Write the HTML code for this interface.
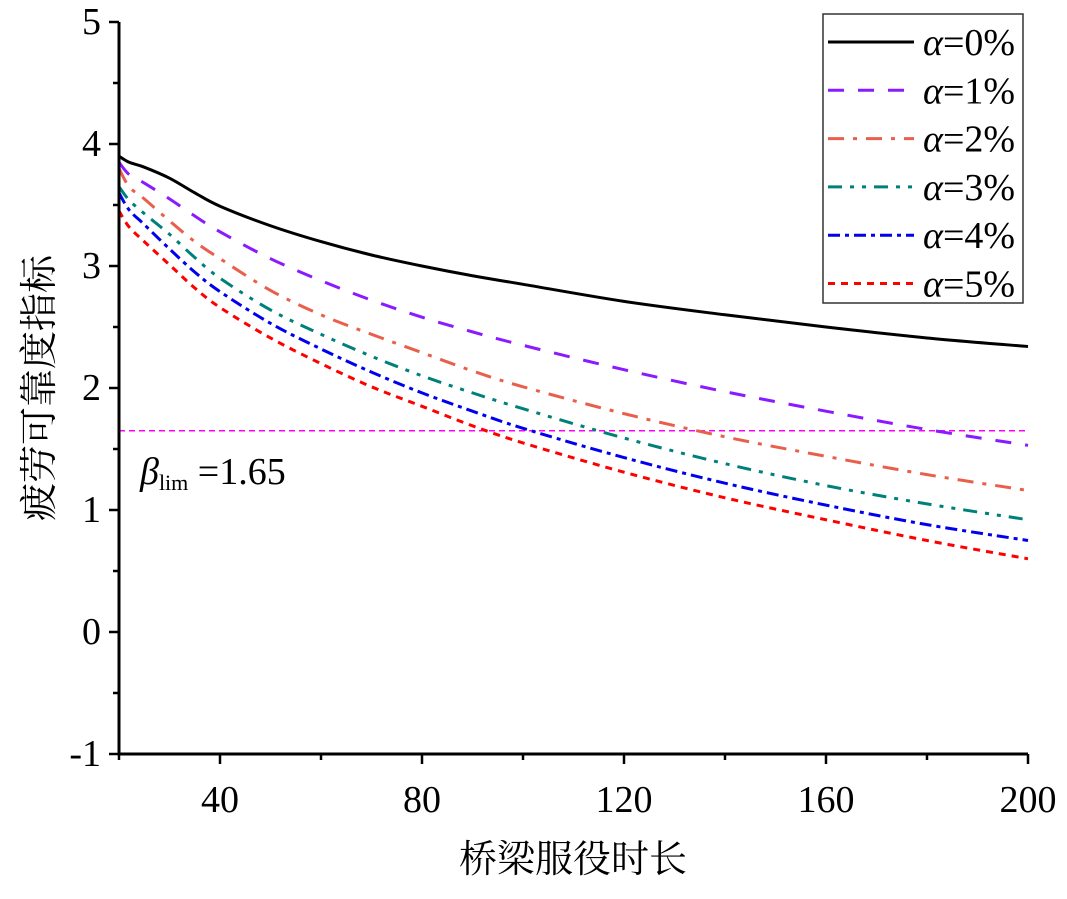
<!DOCTYPE html>
<html><head><meta charset="utf-8">
<style>
body{margin:0;background:#fff;}
svg, svg text{font-family:"Liberation Serif","Noto Serif CJK SC","Times New Roman",serif;fill:#000;}
</style></head>
<body>
<svg id="chart" width="1067" height="894" xmlns="http://www.w3.org/2000/svg" font-family="Liberation Serif, Noto Serif CJK SC, serif"></svg>
<script>
const xs = [20, 22, 25, 30, 35, 40, 50, 60, 70, 80, 90, 100, 120, 140, 160, 180, 200];
const s0 = [3.9, 3.85, 3.81, 3.72, 3.6, 3.49, 3.33, 3.2, 3.09, 3.0, 2.92, 2.85, 2.71, 2.6, 2.5, 2.41, 2.34];
const s1 = [3.85, 3.75, 3.68, 3.55, 3.41, 3.28, 3.06, 2.88, 2.72, 2.58, 2.46, 2.35, 2.15, 1.97, 1.81, 1.66, 1.53];
const s2 = [3.8, 3.65, 3.55, 3.37, 3.2, 3.06, 2.8, 2.6, 2.44, 2.29, 2.14, 2.01, 1.79, 1.6, 1.44, 1.29, 1.16];
const s3 = [3.65, 3.54, 3.43, 3.26, 3.07, 2.9, 2.64, 2.44, 2.26, 2.1, 1.96, 1.83, 1.59, 1.38, 1.2, 1.05, 0.92];
const s4 = [3.6, 3.46, 3.34, 3.14, 2.95, 2.79, 2.53, 2.32, 2.13, 1.96, 1.81, 1.67, 1.43, 1.22, 1.04, 0.88, 0.75];
const s5 = [3.45, 3.32, 3.2, 3.01, 2.82, 2.66, 2.41, 2.2, 2.01, 1.85, 1.69, 1.55, 1.31, 1.1, 0.92, 0.75, 0.6];
const seriesLabels = ["α=0%", "α=1%", "α=2%", "α=3%", "α=4%", "α=5%"];
const xTicks = [40, 80, 120, 160, 200];
const yTicks = [-1, 0, 1, 2, 3, 4, 5];
const betaLim = [1.65];

const NS = "http://www.w3.org/2000/svg";
const svg = document.getElementById("chart");
const X0 = 119, X1 = 1028, Y0 = 754, Y1 = 22;
const xMin = 20, xMax = 200, yMin = -1, yMax = 5;
const sx = v => X0 + (v - xMin) / (xMax - xMin) * (X1 - X0);
const sy = v => Y0 - (v - yMin) / (yMax - yMin) * (Y0 - Y1);
function mk(tag, attrs, parent) {
  const e = document.createElementNS(NS, tag);
  for (const k in attrs) e.setAttribute(k, attrs[k]);
  (parent || svg).appendChild(e);
  return e;
}
const styles = [
  {c: "#000000", d: "", w: 3},
  {c: "#8a1aff", d: "16 14", w: 3},
  {c: "#e8604c", d: "16 9 4 9", w: 3},
  {c: "#00807a", d: "14 8 4 8 4 8", w: 3},
  {c: "#0000ee", d: "12 5 4 5", w: 3},
  {c: "#ff0000", d: "7 6", w: 3}
];
const all = [s0, s1, s2, s3, s4, s5];

const lim = mk("line", {x1: X0, x2: X1, y1: sy(betaLim[0]), y2: sy(betaLim[0]), stroke: "#ff00ff", "stroke-width": 1.5, "stroke-dasharray": "6 4"});



all.forEach((s, i) => {
  const pts = xs.map((x, j) => [sx(x), sy(s[j])]);
  let d = "M" + pts[0][0] + "," + pts[0][1];
  for (let j = 0; j < pts.length - 1; j++) {
    const p0 = pts[Math.max(0, j - 1)], p1 = pts[j], p2 = pts[j + 1], p3 = pts[Math.min(pts.length - 1, j + 2)];
    const c1 = [p1[0] + (p2[0] - p0[0]) / 6, p1[1] + (p2[1] - p0[1]) / 6];
    const c2 = [p2[0] - (p3[0] - p1[0]) / 6, p2[1] - (p3[1] - p1[1]) / 6];
    d += " C" + c1 + " " + c2 + " " + p2;
  }
  const p = mk("path", {d: d, fill: "none", stroke: styles[i].c, "stroke-width": styles[i].w, "stroke-dasharray": styles[i].d});
  
  
});

const ax = mk("path", {d: `M${X0},${Y1} L${X0},${Y0} L${X1},${Y0}`, fill: "none", stroke: "#000", "stroke-width": 3});


for (let v = 20; v <= 200; v += 20) {
  const major = xTicks.includes(v);
  mk("line", {x1: sx(v), x2: sx(v), y1: Y0, y2: Y0 + (major ? 10 : 6), stroke: "#000", "stroke-width": 2.5});
}
xTicks.forEach(v => {
  const t = mk("text", {x: sx(v), y: 812, "font-size": 38, "text-anchor": "middle"});
  t.textContent = v;
  
  
});
for (let v = -1; v <= 5; v += 0.5) {
  const major = Number.isInteger(v);
  mk("line", {x1: X0, x2: X0 - (major ? 10 : 6), y1: sy(v), y2: sy(v), stroke: "#000", "stroke-width": 2.5});
}
yTicks.forEach(v => {
  const t = mk("text", {x: 101, y: sy(v) + 12, "font-size": 38, "text-anchor": "end"});
  t.textContent = v;
  
  
});

const xt = mk("text", {x: 573, y: 872, "font-size": 38, "text-anchor": "middle"});
xt.textContent = "桥梁服役时长";


const yt = mk("text", {x: 0, y: 0, "font-size": 38, "text-anchor": "middle", transform: "translate(52,388) rotate(-90)"});
yt.textContent = "疲劳可靠度指标";



const bl = mk("text", {x: 140, y: 484, "font-size": 38});
bl.innerHTML = '<tspan font-style="italic">β</tspan><tspan font-size="22" dy="6">lim</tspan><tspan dy="-6"> =1.65</tspan>';



const lg = mk("g", {});


mk("rect", {x: 823, y: 14, width: 200, height: 289, fill: "#fff", stroke: "#333", "stroke-width": 1.5}, lg);
seriesLabels.forEach((lab, i) => {
  const y = 42 + i * 48.3;
  const g = mk("g", {}, lg);
  
  
  mk("line", {x1: 828, x2: 914, y1: y, y2: y, stroke: styles[i].c, "stroke-width": 3, "stroke-dasharray": styles[i].d}, g);
  const t = mk("text", {x: 923, y: y + 13, "font-size": 38}, g);
  t.innerHTML = '<tspan font-style="italic">α</tspan>' + lab.slice(1);
});
</script>
</body></html>
